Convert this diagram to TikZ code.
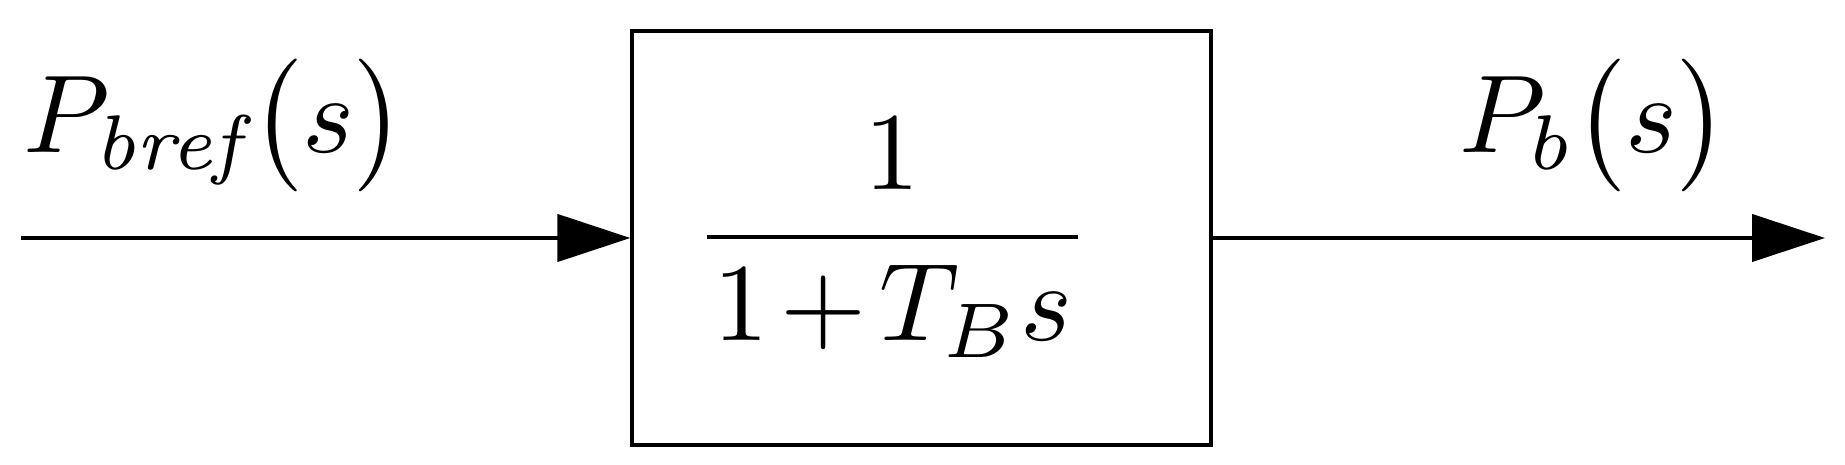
\documentclass[tikz,border=0pt]{standalone}
\usepackage{amsmath}
\usetikzlibrary{arrows.meta,positioning}
\begin{document}
\begin{tikzpicture}[
    block/.style={draw, line width=0.9pt, minimum width=5.79cm, minimum height=4.14cm, inner sep=0pt},
    sig/.style={line width=1.2pt, -{Triangle[length=7.3mm, width=4.7mm]}},
    lbl/.style={inner sep=0pt, scale=3.15}
]
    \useasboundingbox (0,0) rectangle (18.45,4.65);

    % Block B(s)
    \node[block] (blk) at (9.215,2.27) {};
    \node[lbl, scale=1.0] (tf) at ([xshift=-2.9mm]blk.center) {$\dfrac{1}{\mkern1mu 1\mkern-2mu+\mkern-2mu T_{B}s\mkern1mu}$};

    % Input signal
    \coordinate (in) at (0.21,2.27);
    \draw[sig] (in) -- (blk.west);
    \node[lbl, anchor=base west] (lin) at (0.21,3.12) {$P_{\mathit{bref}}\mkern-2mu\bigl(s\bigr)$};

    % Output signal
    \coordinate (out) at (18.25,2.27);
    \draw[sig] (blk.east) -- (out);
    \node[lbl, anchor=base west] (lout) at (14.57,3.12) {$P_{b}\bigl(s\bigr)$};
\end{tikzpicture}
\end{document}
